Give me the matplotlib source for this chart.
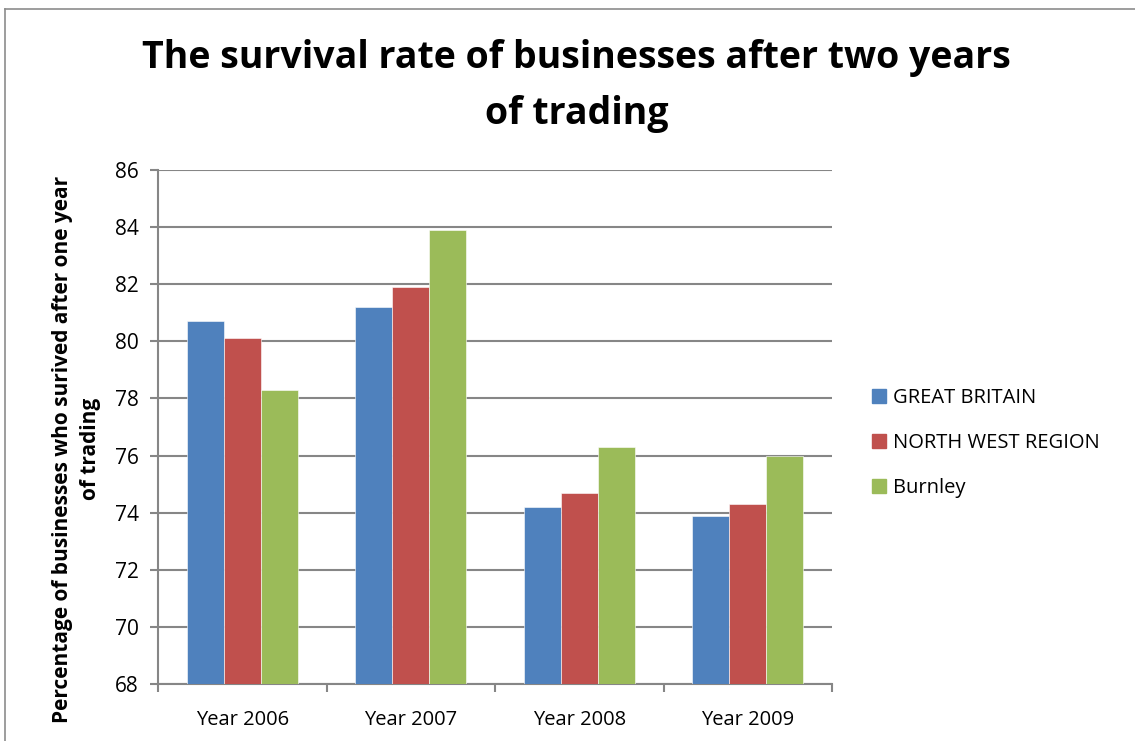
import numpy as np
import matplotlib
matplotlib.use("Agg")
import matplotlib.pyplot as plt
from matplotlib.lines import Line2D

# --- Data ---
years = ["Year 2006", "Year 2007", "Year 2008", "Year 2009"]
series_names = ["GREAT BRITAIN", "NORTH WEST REGION", "Burnley"]
great_britain = [80.7, 81.2, 74.2, 73.9]
north_west = [80.1, 81.9, 74.7, 74.3]
burnley = [78.3, 83.9, 76.3, 76.0]
y_ticks = [68, 70, 72, 74, 76, 78, 80, 82, 84, 86]

colors = ["#4F81BD", "#C0504D", "#9BBB59"]
grid_col = "#868686"

plt.rcParams["font.family"] = ["Open Sans", "DejaVu Sans"]

fig = plt.figure(figsize=(11.35, 7.41), dpi=100)
ax = fig.add_axes([158 / 1135, 1 - 684 / 741, (832 - 158) / 1135, (684 - 170) / 741])

x = np.arange(len(years))
width = 0.22
for i, (vals, name) in enumerate(zip([great_britain, north_west, burnley], series_names)):
    ax.bar(x + (i - 1) * width, vals, width, bottom=0, color=colors[i], label=name,
           edgecolor="white", linewidth=0.4, zorder=3)

ax.set_ylim(68, 86)
ax.set_xlim(-0.5, len(years) - 0.5)
ax.set_yticks(y_ticks)
ax.set_yticklabels([str(t) for t in y_ticks], fontsize=15)
ax.yaxis.grid(True, color=grid_col, linewidth=1.5, zorder=0)
ax.set_axisbelow(True)

ax.set_xticks(x)
ax.set_xticklabels(years, fontsize=14.5)
ax.set_xticks(np.arange(-0.5, len(years)), minor=True)
ax.tick_params(axis="x", which="major", length=0, pad=19)
ax.tick_params(axis="x", which="minor", length=6, width=1.5, color=grid_col)
ax.tick_params(axis="y", length=6, width=1.5, color=grid_col, pad=8)

for side in ["top", "right"]:
    ax.spines[side].set_visible(False)
for side in ["left", "bottom"]:
    ax.spines[side].set_color(grid_col)
    ax.spines[side].set_linewidth(1.5)

ax.set_ylabel("Percentage of businesses who surived after one year\nof trading",
              fontsize=15, fontweight="bold", linespacing=1.45)
ax.yaxis.set_label_coords(-0.084, 0.457)

fig.text(0.508, 1 - 86 / 741, "The survival rate of businesses after two years\nof trading",
         ha="center", va="center", fontsize=27, fontweight="bold", linespacing=1.6)

handles = [plt.Rectangle((0, 0), 1, 1, color=c) for c in colors]
fig.legend(handles, series_names, loc="center left", bbox_to_anchor=(854 / 1135, 1 - 443 / 741),
           frameon=False, fontsize=14.5, handlelength=0.7, handleheight=0.7,
           handletextpad=0.35, labelspacing=1.25)

# chart area border
fig.add_artist(Line2D([5 / 1135, 5 / 1135], [0, 1 - 9 / 741], transform=fig.transFigure,
                      color="#8c8c8c", linewidth=1.2))
fig.add_artist(Line2D([5 / 1135, 1], [1 - 9 / 741, 1 - 9 / 741], transform=fig.transFigure,
                      color="#8c8c8c", linewidth=1.2))

fig.savefig("out.png", dpi=100)
